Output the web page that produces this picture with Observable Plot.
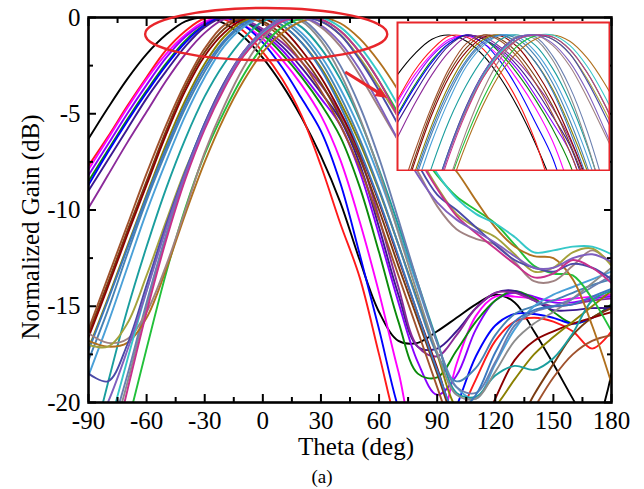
<!DOCTYPE html>
<html><head><meta charset="utf-8">
<script src="https://cdn.jsdelivr.net/npm/d3@7"></script>
<script src="https://cdn.jsdelivr.net/npm/@observablehq/plot@0.6"></script>
<style>
body{margin:0;background:#fff;}
#wrap{position:relative;width:644px;height:489px;background:#fff;}
#inset{position:absolute;left:396px;top:21px;}
</style></head><body><div id="wrap"></div>
<script>
// ---- data (Theta in deg, Normalized Gain in dB) ----
const theta = [-90,-80,-70,-60,-50,-40,-30,-20,-10,0,10,20,30,40,50,60,70,80,90,100,110,120,130,140,150,160,170,180];

const cBlack   = [-6.3,-4.7,-3.2,-1.9,-0.9,-0.2,0,-0.3,-1.0,-2.1,-3.5,-5.2,-7.2,-9.6,-12.6,-15.3,-16.8,-16.9,-16.3,-15.6,-14.9,-14.4,-14.8,-16.3,-18.0,-19.8,-21.5,-18.5];
const cRed     = [-7.7,-6.2,-4.6,-3.1,-1.7,-0.7,-0.05,-0.1,-0.7,-1.8,-3.2,-5.1,-7.7,-10.7,-13.5,-17.5,-21.5,-24,-23,-21,-18.8,-16.8,-15.8,-15.6,-15.8,-16.3,-17.2,-16.3];
const cMagenta = [-7.9,-6.3,-4.7,-3.2,-1.9,-0.9,-0.2,-0.05,-0.4,-1.1,-2.2,-3.5,-5.1,-7.4,-10.6,-14.3,-18.4,-22,-21.5,-18.0,-15.5,-14.5,-14.5,-14.6,-14.7,-14.6,-14.5,-14.4];
const cViolet  = [-8.2,-6.6,-5.0,-3.5,-2.1,-1.0,-0.3,0,-0.2,-0.8,-1.7,-2.9,-4.2,-5.6,-8.0,-11.3,-14.8,-17.9,-19.6,-18.6,-16.2,-14.7,-14.3,-14.5,-14.8,-14.8,-14.6,-14.5];
const cDkGreen = [-8.5,-6.9,-5.3,-3.8,-2.4,-1.2,-0.4,-0.02,-0.2,-0.9,-1.9,-3.1,-4.5,-6.2,-8.8,-12.2,-15.8,-18.5,-18.7,-17.3,-15.8,-14.7,-14.2,-14.6,-15.3,-15.9,-15.6,-14.9];
const cBlue    = [-8.7,-7.0,-5.4,-3.9,-2.5,-1.3,-0.4,0,-0.4,-1.3,-2.6,-4.2,-5.9,-8.6,-12.3,-16.2,-20.3,-23,-22.5,-20.2,-17.6,-16.0,-15.4,-15.4,-15.6,-15.9,-15.6,-15.0];
const cIndigo  = [-9.0,-7.4,-5.8,-4.2,-2.8,-1.5,-0.5,0,-0.2,-0.7,-1.5,-2.6,-3.9,-5.3,-7.6,-10.9,-14.4,-17.1,-17.2,-16.3,-15.1,-14.3,-14.2,-14.7,-15.2,-15.2,-15.1,-15.1];
const cPurple  = [-9.9,-8.2,-6.5,-4.9,-3.3,-1.9,-0.8,-0.1,-0.1,-0.6,-1.3,-2.3,-3.5,-5.0,-7.2,-10.4,-14.0,-17.1,-17.6,-16.5,-15.1,-14.3,-14.3,-14.7,-15.0,-14.9,-14.7,-14.6];

const cBrown   = [-16.4,-13.8,-11.1,-8.5,-5.9,-3.6,-1.8,-0.6,0,-0.2,-0.9,-2.0,-3.4,-5.2,-7.3,-10.0,-12.9,-15.7,-18.5,-21.3,-23,-23,-21.5,-19.6,-18.0,-16.5,-15.6,-15.1];
const cMaroon  = [-16.6,-14.0,-11.3,-8.7,-6.1,-3.8,-2.0,-0.8,-0.1,-0.05,-0.6,-1.7,-3.1,-4.9,-7.0,-9.6,-12.5,-15.4,-18.2,-21.0,-22,-19.8,-17.8,-16.8,-16.3,-15.9,-15.6,-15.3];
const cOlive   = [-17.2,-14.6,-11.9,-9.2,-6.6,-4.3,-2.4,-1.0,-0.2,0,-0.4,-1.3,-2.6,-4.4,-6.5,-9.0,-11.8,-14.7,-17.5,-20.3,-21,-20.2,-18.8,-17.5,-16.6,-15.8,-15.0,-14.2];
const cSteel   = [-17.8,-15.2,-12.3,-9.5,-7.0,-4.7,-2.8,-1.3,-0.4,0,-0.2,-1.0,-2.3,-4.1,-6.3,-8.9,-11.8,-14.8,-17.5,-18.9,-18.2,-16.5,-15.4,-15.0,-14.7,-14.3,-13.9,-13.6];
const cSky     = [-18.6,-15.9,-13.0,-10.1,-7.5,-5.1,-3.1,-1.5,-0.5,0,-0.1,-0.8,-2.0,-3.7,-5.8,-8.3,-11.1,-14.0,-16.9,-19.2,-19.8,-18.0,-16.2,-15.0,-14.4,-14.0,-13.6,-13.2];
const cTeal    = [-23,-19.0,-15.2,-11.9,-8.9,-6.3,-4.1,-2.4,-1.1,-0.2,0,-0.5,-1.6,-3.2,-5.3,-7.9,-10.8,-13.8,-16.8,-19.5,-19.7,-18.6,-18.1,-18.3,-17.7,-16.4,-14.7,-14.2];
const cGray    = [-26,-22.6,-19.0,-15.0,-11.4,-8.2,-5.5,-3.4,-1.8,-0.7,-0.05,-0.2,-1.2,-2.9,-5.2,-8.0,-11.2,-14.4,-17.4,-19.6,-19.8,-18.4,-16.8,-15.9,-15.3,-14.6,-13.8,-13.0];
const cSlate   = [-25,-22.0,-18.6,-14.8,-11.3,-8.2,-5.6,-3.5,-1.9,-0.8,-0.1,-0.1,-1.0,-2.5,-4.6,-7.3,-10.5,-13.8,-16.9,-19.2,-19.5,-17.9,-16.0,-15.3,-15.0,-14.6,-14.0,-13.4];
const cMidBlue = [-17.3,-14.7,-12.0,-9.3,-6.8,-4.5,-2.6,-1.2,-0.3,0,-0.4,-1.3,-2.7,-4.6,-6.9,-9.5,-12.4,-15.4,-18.3,-20.5,-19.6,-17.4,-15.8,-15.2,-15.0,-14.9,-14.5,-14.1];
const cSienna  = [-16.2,-13.5,-10.8,-8.1,-5.6,-3.4,-1.6,-0.4,0,-0.3,-1.1,-2.3,-3.8,-5.6,-7.8,-10.5,-13.4,-16.3,-19.2,-22,-24,-24,-22,-20.3,-18.7,-17.5,-16.8,-16.5];

const cGreen   = [-28,-25,-21.2,-17.2,-13.3,-9.9,-7.1,-4.9,-3.0,-1.5,-0.5,-0.05,-0.1,-0.7,-1.8,-3.3,-5.0,-6.8,-8.2,-9.3,-10.0,-10.7,-11.8,-12.9,-13.3,-13.4,-14.6,-16.3];
const cOrange  = [-16.8,-17.1,-16.9,-15.6,-13.1,-10.2,-7.5,-5.2,-3.3,-1.8,-0.8,-0.2,0,-0.3,-1.1,-2.3,-3.8,-5.5,-6.9,-8.0,-9.5,-10.9,-11.9,-12.4,-12.5,-13.6,-16.0,-19.0];
const cTaupe   = [-16.4,-16.9,-16.7,-15.3,-12.9,-10.0,-7.0,-4.6,-2.6,-1.1,-0.2,0,-0.5,-1.5,-3.0,-4.7,-6.4,-8.0,-9.8,-11.0,-11.5,-11.8,-12.7,-13.7,-13.7,-12.9,-12.1,-12.8];
const cKhaki   = [-17.0,-17.1,-15.9,-13.4,-10.6,-7.9,-5.6,-3.6,-2.0,-0.9,-0.2,0,-0.2,-0.9,-2.1,-3.6,-5.2,-7.1,-8.8,-10.2,-10.9,-11.4,-12.3,-13.2,-13.0,-12.2,-12.0,-12.9];
const cCyan    = [-25,-21.5,-17.8,-14.2,-10.9,-8.0,-5.5,-3.5,-1.9,-0.8,-0.2,0,0,-0.5,-1.5,-2.9,-4.6,-6.4,-8.1,-9.4,-10.2,-10.7,-11.4,-12.2,-12.1,-11.9,-11.9,-12.3];
const cNavy    = [-18.5,-18.9,-17.0,-13.9,-10.8,-8.0,-5.5,-3.4,-1.8,-0.7,-0.1,0,-0.2,-0.9,-2.2,-3.8,-5.6,-7.6,-9.2,-10.0,-10.9,-11.8,-12.6,-13.0,-13.2,-12.8,-13.0,-13.6];
const cPink    = [-27,-23.6,-19.4,-15.3,-11.6,-8.4,-5.8,-3.7,-2.0,-0.9,-0.2,0,-0.1,-0.7,-1.8,-3.3,-5.2,-7.2,-8.9,-10.3,-11.2,-12.0,-12.8,-13.5,-13.3,-12.6,-13.0,-13.8];
const cLilac   = [-22,-20.0,-17.3,-14.2,-11.0,-8.1,-5.6,-3.5,-1.8,-0.7,-0.1,0,-0.4,-1.3,-2.7,-4.5,-6.4,-8.2,-9.6,-10.5,-11.1,-11.7,-12.4,-13.0,-13.0,-12.5,-12.3,-12.7];

const xTickLabels = [-90,-60,-30,0,30,60,90,120,150,180];
const xMinorTicks = [-75,-45,-15,15,45,75,105,135,165];
const yTickLabels = [-20,-15,-10,-5,0];
const yMinorTicks = [-17.5,-12.5,-7.5,-2.5];

// ---- styling ----
const curves = [
  ["black", cBlack, "#000000"], ["red", cRed, "#ff1a1a"], ["magenta", cMagenta, "#ff00ff"],
  ["violet", cViolet, "#8a00ff"], ["dkgreen", cDkGreen, "#0a8a0a"], ["blue", cBlue, "#0000ff"],
  ["indigo", cIndigo, "#3c1890"], ["purple", cPurple, "#8b2a9a"],
  ["brown", cBrown, "#7a3b10"], ["maroon", cMaroon, "#8b0000"], ["olive", cOlive, "#8a8000"],
  ["steel", cSteel, "#4682b4"], ["sky", cSky, "#4aa0d8"], ["teal", cTeal, "#1a9e9e"],
  ["gray", cGray, "#8c8c8c"], ["slate", cSlate, "#6a7fb0"], ["midblue", cMidBlue, "#3a78c0"],
  ["sienna", cSienna, "#a0522d"],
  ["green", cGreen, "#22c03a"], ["orange", cOrange, "#b0701e"], ["taupe", cTaupe, "#a08282"],
  ["khaki", cKhaki, "#a4a23c"], ["cyan", cCyan, "#36c8c8"], ["navy", cNavy, "#4a4aa8"],
  ["pink", cPink, "#c8308c"], ["lilac", cLilac, "#7f5fbf"]
];
const rows = [];
for (const [name, g] of curves) g.forEach((v, j) => rows.push({curve: name, theta: theta[j], gain: v}));
const colorScale = {domain: curves.map(d => d[0]), range: curves.map(d => d[2])};

const FONT = "'Liberation Serif','Times New Roman',serif";
const FS = 25;
const RED = "#e8262b";

const plot = Plot.plot({
  width: 644, height: 489,
  marginLeft: 88, marginRight: 33, marginTop: 17, marginBottom: 87,
  x: {domain: [-90, 180], axis: null},
  y: {domain: [-20, 0], axis: null},
  color: colorScale,
  style: {fontFamily: FONT, fontSize: FS + "px", color: "#000", background: "#fff"},
  marks: [
    Plot.line(rows, {x: "theta", y: "gain", z: "curve", stroke: "curve", strokeWidth: 1.9, curve: "catmull-rom", clip: true}),
    Plot.axisX({anchor: "bottom", ticks: xTickLabels, tickSize: 0, tickPadding: 9, tickFormat: d => String(d), fontSize: FS, label: null}),
    Plot.axisY({anchor: "left", ticks: yTickLabels, tickSize: 0, tickPadding: 8, tickFormat: d => String(d), fontSize: FS, label: null}),
    Plot.axisX({anchor: "bottom", ticks: xTickLabels, tickSize: -8, tickFormat: () => "", label: null, strokeWidth: 2}),
    Plot.axisX({anchor: "bottom", ticks: xMinorTicks, tickSize: -5, tickFormat: () => "", label: null, strokeWidth: 2}),
    Plot.axisX({anchor: "top", ticks: xTickLabels, tickSize: -8, tickFormat: () => "", label: null, strokeWidth: 2}),
    Plot.axisX({anchor: "top", ticks: xMinorTicks, tickSize: -5, tickFormat: () => "", label: null, strokeWidth: 2}),
    Plot.axisY({anchor: "left", ticks: yTickLabels, tickSize: -8, tickFormat: () => "", label: null, strokeWidth: 2}),
    Plot.axisY({anchor: "left", ticks: yMinorTicks, tickSize: -5, tickFormat: () => "", label: null, strokeWidth: 2}),
    Plot.axisY({anchor: "right", ticks: yTickLabels, tickSize: -8, tickFormat: () => "", label: null, strokeWidth: 2}),
    Plot.axisY({anchor: "right", ticks: yMinorTicks, tickSize: -5, tickFormat: () => "", label: null, strokeWidth: 2}),
    Plot.frame({stroke: "#000", strokeWidth: 2.6}),
    Plot.text(["Theta (deg)"], {frameAnchor: "bottom", lineAnchor: "middle", textAnchor: "middle", dy: 44, dx: 6, fontSize: FS, fill: "#000"}),
    Plot.text(["Normalized Gain (dB)"], {frameAnchor: "left", lineAnchor: "middle", textAnchor: "middle", dx: -58, dy: 17, rotate: -90, fontSize: FS, fill: "#000"}),
    Plot.text(["(a)"], {frameAnchor: "bottom", lineAnchor: "middle", textAnchor: "middle", dy: 74, dx: -28, fontSize: 19, fill: "#000"})
  ]
});
document.getElementById("wrap").appendChild(plot);

// annotations: ellipse around the main lobes and arrow to the inset
const sx = plot.scale("x"), sy = plot.scale("y");
const X = d3.scaleLinear(sx.domain, sx.range), Y = d3.scaleLinear(sy.domain, sy.range);
const ellipseBox = {theta: [-60.5, 64.5], gain: [0.47, -2.25]};
const arrowPts = {from: [42.8, -2.86], to: [64.5, -4.21]};
const svg = d3.select(plot);
const ex0 = X(ellipseBox.theta[0]), ex1 = X(ellipseBox.theta[1]);
const ey0 = Y(ellipseBox.gain[0]), ey1 = Y(ellipseBox.gain[1]);
svg.append("ellipse").attr("cx", (ex0+ex1)/2).attr("cy", (ey0+ey1)/2)
  .attr("rx", (ex1-ex0)/2).attr("ry", (ey1-ey0)/2)
  .attr("fill", "none").attr("stroke", RED).attr("stroke-width", 2.4);
const ax0 = X(arrowPts.from[0]), ay0 = Y(arrowPts.from[1]), ax1 = X(arrowPts.to[0]), ay1 = Y(arrowPts.to[1]);
const L = Math.hypot(ax1-ax0, ay1-ay0), ux = (ax1-ax0)/L, uy = (ay1-ay0)/L;
const hl = 12, hw = 5;
svg.append("line").attr("x1", ax0).attr("y1", ay0).attr("x2", ax1 - ux*hl*0.7).attr("y2", ay1 - uy*hl*0.7)
  .attr("stroke", RED).attr("stroke-width", 3);
svg.append("path").attr("d", `M${ax1},${ay1}L${ax1-ux*hl-uy*hw},${ay1-uy*hl+ux*hw}L${ax1-ux*hl+uy*hw},${ay1-uy*hl-ux*hw}Z`)
  .attr("fill", RED);

// inset: enlarged view of the main-lobe region
const insetX = [-60, 63];
const insetY = [-6.5, 0.6];
const inset = Plot.plot({
  width: 214, height: 150, margin: 1,
  x: {domain: insetX, axis: null},
  y: {domain: insetY, axis: null},
  color: colorScale,
  style: {background: "#fff"},
  marks: [
    Plot.line(rows, {x: "theta", y: "gain", z: "curve", stroke: "curve", strokeWidth: 1.1, curve: "catmull-rom", clip: true}),
    Plot.frame({stroke: RED, strokeWidth: 2})
  ]
});
inset.id = "inset";
document.getElementById("wrap").appendChild(inset);
</script>
</body></html>
